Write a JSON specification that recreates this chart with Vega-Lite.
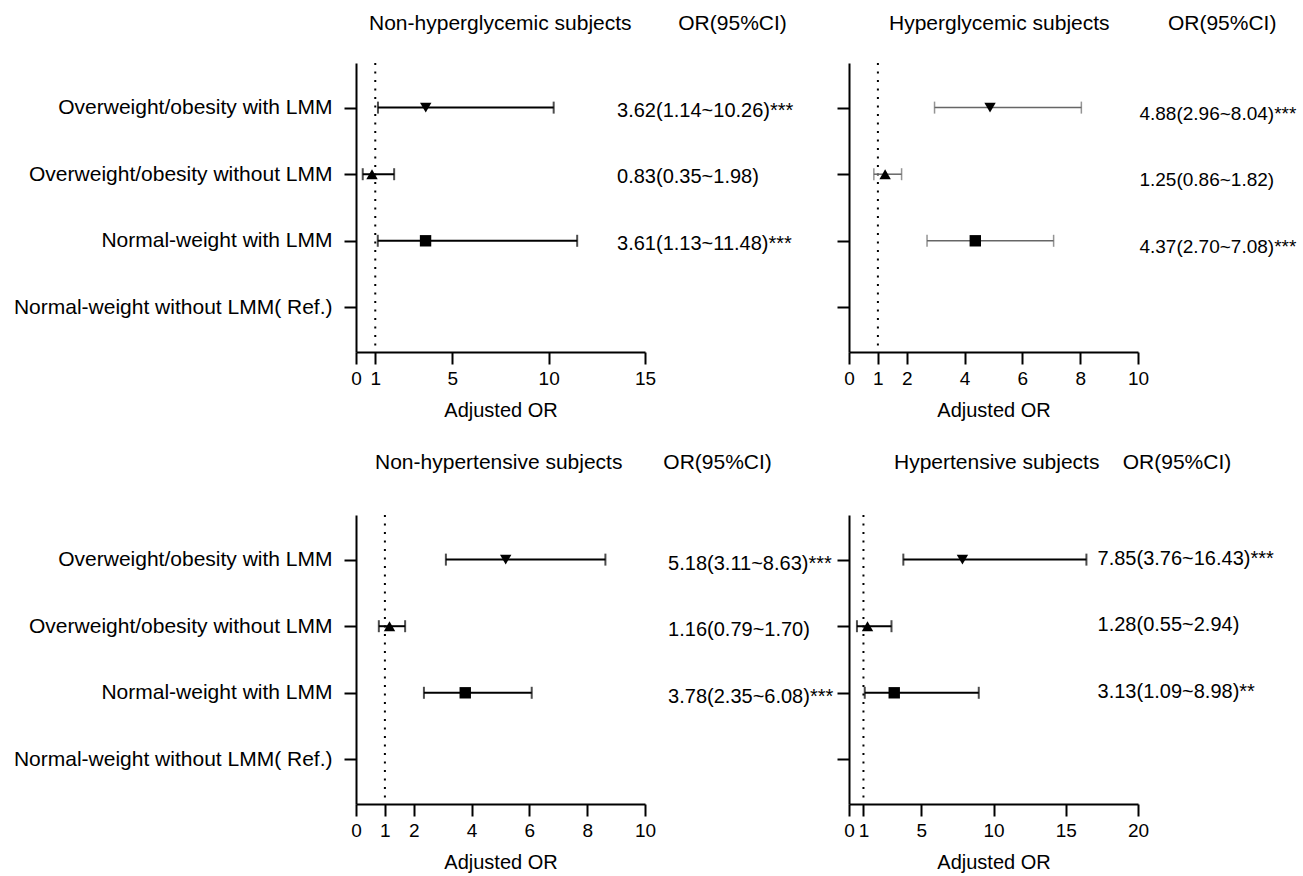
{
  "$schema": "https://vega.github.io/schema/vega-lite/v6.json",
  "padding": {"left": 13, "top": 13, "right": 5, "bottom": 5},
  "config": {
    "view": {"stroke": null},
    "font": "Liberation Sans",
    "axis": {"domainColor": "black", "domainWidth": 2, "tickColor": "black", "tickWidth": 2, "tickSize": 12, "labelColor": "black", "labelFont": "Liberation Sans", "titleFont": "Liberation Sans", "titleColor": "black", "grid": false, "titleFontWeight": "normal", "labelOverlap": false, "labelFlush": false, "labelLimit": 0},
    "axisX": {"labelFontSize": 19, "labelPadding": 5, "titleFontSize": 20, "titlePadding": 12},
    "axisY": {"labelFontSize": 21, "labelPadding": 12},
    "title": {"fontSize": 21, "fontWeight": "normal", "color": "black", "font": "Liberation Sans", "anchor": "start", "frame": "group"}
  },
  "data": {"values": [
    {"panel": "p1", "group": "Overweight/obesity with LMM", "or": 3.62, "low": 1.14, "high": 10.26, "label": "3.62(1.14~10.26)***"},
    {"panel": "p1", "group": "Overweight/obesity without LMM", "or": 0.83, "low": 0.35, "high": 1.98, "label": "0.83(0.35~1.98)"},
    {"panel": "p1", "group": "Normal-weight with LMM", "or": 3.61, "low": 1.13, "high": 11.48, "label": "3.61(1.13~11.48)***"},
    {"panel": "p2", "group": "Overweight/obesity with LMM", "or": 4.88, "low": 2.96, "high": 8.04, "label": "4.88(2.96~8.04)***"},
    {"panel": "p2", "group": "Overweight/obesity without LMM", "or": 1.25, "low": 0.86, "high": 1.82, "label": "1.25(0.86~1.82)"},
    {"panel": "p2", "group": "Normal-weight with LMM", "or": 4.37, "low": 2.70, "high": 7.08, "label": "4.37(2.70~7.08)***"},
    {"panel": "p3", "group": "Overweight/obesity with LMM", "or": 5.18, "low": 3.11, "high": 8.63, "label": "5.18(3.11~8.63)***"},
    {"panel": "p3", "group": "Overweight/obesity without LMM", "or": 1.16, "low": 0.79, "high": 1.70, "label": "1.16(0.79~1.70)"},
    {"panel": "p3", "group": "Normal-weight with LMM", "or": 3.78, "low": 2.35, "high": 6.08, "label": "3.78(2.35~6.08)***"},
    {"panel": "p4", "group": "Overweight/obesity with LMM", "or": 7.85, "low": 3.76, "high": 16.43, "label": "7.85(3.76~16.43)***"},
    {"panel": "p4", "group": "Overweight/obesity without LMM", "or": 1.28, "low": 0.55, "high": 2.94, "label": "1.28(0.55~2.94)"},
    {"panel": "p4", "group": "Normal-weight with LMM", "or": 3.13, "low": 1.09, "high": 8.98, "label": "3.13(1.09~8.98)**"}
  ]},
  "columns": 2,
  "spacing": {"row": 163, "column": 204},
  "bounds": "flush",
  "resolve": {"scale": {"x": "independent"}},
  "concat": [
    {
      "width": 289, "height": 289,
      "title": {"text": "Non-hyperglycemic subjects\u00a0\u00a0\u00a0\u00a0\u00a0\u00a0\u00a0\u00a0OR(95%CI)", "dx": 13, "offset": 28},
      "transform": [{"filter": "datum.panel === 'p1'"}],
      "layer": [
        {"data": {"values": [{}]}, "mark": {"type": "rule", "strokeDash": [2, 6.5], "strokeWidth": 2, "color": "black"}, "encoding": {"x": {"datum": 1, "scale": {"domain": [0, 15], "nice": false}}}},
        {"mark": {"type": "rule", "strokeWidth": 2, "color": "black"}, "encoding": {
          "x": {"field": "low", "type": "quantitative", "title": "Adjusted OR", "scale": {"domain": [0, 15], "nice": false}, "axis": {"values": [0, 1, 5, 10, 15]}},
          "x2": {"field": "high"},
          "y": {"field": "group", "type": "nominal", "title": null, "scale": {"type": "point", "domain": ["Overweight/obesity with LMM", "Overweight/obesity without LMM", "Normal-weight with LMM", "Normal-weight without LMM( Ref.)"], "padding": 0.67}}}},
        {"mark": {"type": "tick", "orient": "vertical", "size": 12, "thickness": 2, "color": "black"}, "encoding": {
          "x": {"field": "low", "type": "quantitative", "title": "Adjusted OR", "scale": {"domain": [0, 15], "nice": false}},
          "y": {"field": "group", "type": "nominal", "title": null}}},
        {"mark": {"type": "tick", "orient": "vertical", "size": 12, "thickness": 2, "color": "black"}, "encoding": {
          "x": {"field": "high", "type": "quantitative", "title": "Adjusted OR", "scale": {"domain": [0, 15], "nice": false}},
          "y": {"field": "group", "type": "nominal", "title": null}}},
        {"mark": {"type": "point", "filled": true, "color": "black", "opacity": 1}, "encoding": {
          "x": {"field": "or", "type": "quantitative", "title": "Adjusted OR", "scale": {"domain": [0, 15], "nice": false}},
          "y": {"field": "group", "type": "nominal", "title": null},
          "shape": {"field": "group", "type": "nominal", "scale": {"domain": ["Overweight/obesity with LMM", "Overweight/obesity without LMM", "Normal-weight with LMM"], "range": ["triangle-down", "triangle-up", "square"]}, "legend": null},
          "size": {"field": "group", "type": "ordinal", "scale": {"domain": ["Overweight/obesity with LMM", "Overweight/obesity without LMM", "Normal-weight with LMM"], "range": [130, 130, 180]}, "legend": null}}},
        {"mark": {"type": "text", "align": "left", "baseline": "middle", "fontSize": 20, "dy": 3, "color": "black"}, "encoding": {
          "x": {"datum": 13.55, "scale": {"domain": [0, 15], "nice": false}},
          "y": {"field": "group", "type": "nominal", "title": null},
          "text": {"field": "label"}}}
      ]
    },
    {
      "width": 289, "height": 289,
      "title": {"text": "Hyperglycemic subjects\u00a0\u00a0\u00a0\u00a0\u00a0\u00a0\u00a0\u00a0\u00a0\u00a0OR(95%CI)", "dx": 40, "offset": 28},
      "transform": [{"filter": "datum.panel === 'p2'"}],
      "layer": [
        {"data": {"values": [{}]}, "mark": {"type": "rule", "strokeDash": [2, 6.5], "strokeWidth": 2, "color": "black"}, "encoding": {"x": {"datum": 1, "scale": {"domain": [0, 10], "nice": false}}}},
        {"mark": {"type": "rule", "strokeWidth": 1.5, "color": "#666666"}, "encoding": {
          "x": {"field": "low", "type": "quantitative", "title": "Adjusted OR", "scale": {"domain": [0, 10], "nice": false}, "axis": {"values": [0, 1, 2, 4, 6, 8, 10]}},
          "x2": {"field": "high"},
          "y": {"field": "group", "type": "nominal", "title": null, "scale": {"type": "point", "domain": ["Overweight/obesity with LMM", "Overweight/obesity without LMM", "Normal-weight with LMM", "Normal-weight without LMM( Ref.)"], "padding": 0.67}, "axis": {"labels": false}}}},
        {"mark": {"type": "tick", "orient": "vertical", "size": 12, "thickness": 1.5, "color": "#666666"}, "encoding": {
          "x": {"field": "low", "type": "quantitative", "title": "Adjusted OR", "scale": {"domain": [0, 10], "nice": false}},
          "y": {"field": "group", "type": "nominal", "title": null}}},
        {"mark": {"type": "tick", "orient": "vertical", "size": 12, "thickness": 1.5, "color": "#666666"}, "encoding": {
          "x": {"field": "high", "type": "quantitative", "title": "Adjusted OR", "scale": {"domain": [0, 10], "nice": false}},
          "y": {"field": "group", "type": "nominal", "title": null}}},
        {"mark": {"type": "point", "filled": true, "color": "black", "opacity": 1}, "encoding": {
          "x": {"field": "or", "type": "quantitative", "title": "Adjusted OR", "scale": {"domain": [0, 10], "nice": false}},
          "y": {"field": "group", "type": "nominal", "title": null},
          "shape": {"field": "group", "type": "nominal", "scale": {"domain": ["Overweight/obesity with LMM", "Overweight/obesity without LMM", "Normal-weight with LMM"], "range": ["triangle-down", "triangle-up", "square"]}, "legend": null},
          "size": {"field": "group", "type": "ordinal", "scale": {"domain": ["Overweight/obesity with LMM", "Overweight/obesity without LMM", "Normal-weight with LMM"], "range": [130, 130, 180]}, "legend": null}}},
        {"mark": {"type": "text", "align": "left", "baseline": "middle", "fontSize": 19, "dy": 6, "color": "black"}, "encoding": {
          "x": {"datum": 10.05, "scale": {"domain": [0, 10], "nice": false}},
          "y": {"field": "group", "type": "nominal", "title": null},
          "text": {"field": "label"}}}
      ]
    },
    {
      "width": 289, "height": 289,
      "title": {"text": "Non-hypertensive subjects\u00a0\u00a0\u00a0\u00a0\u00a0\u00a0\u00a0OR(95%CI)", "dx": 19, "offset": 41},
      "transform": [{"filter": "datum.panel === 'p3'"}],
      "layer": [
        {"data": {"values": [{}]}, "mark": {"type": "rule", "strokeDash": [2, 6.5], "strokeWidth": 2, "color": "black"}, "encoding": {"x": {"datum": 1, "scale": {"domain": [0, 10], "nice": false}}}},
        {"mark": {"type": "rule", "strokeWidth": 2, "color": "black"}, "encoding": {
          "x": {"field": "low", "type": "quantitative", "title": "Adjusted OR", "scale": {"domain": [0, 10], "nice": false}, "axis": {"values": [0, 1, 2, 4, 6, 8, 10]}},
          "x2": {"field": "high"},
          "y": {"field": "group", "type": "nominal", "title": null, "scale": {"type": "point", "domain": ["Overweight/obesity with LMM", "Overweight/obesity without LMM", "Normal-weight with LMM", "Normal-weight without LMM( Ref.)"], "padding": 0.67}}}},
        {"mark": {"type": "tick", "orient": "vertical", "size": 12, "thickness": 2, "color": "black"}, "encoding": {
          "x": {"field": "low", "type": "quantitative", "title": "Adjusted OR", "scale": {"domain": [0, 10], "nice": false}},
          "y": {"field": "group", "type": "nominal", "title": null}}},
        {"mark": {"type": "tick", "orient": "vertical", "size": 12, "thickness": 2, "color": "black"}, "encoding": {
          "x": {"field": "high", "type": "quantitative", "title": "Adjusted OR", "scale": {"domain": [0, 10], "nice": false}},
          "y": {"field": "group", "type": "nominal", "title": null}}},
        {"mark": {"type": "point", "filled": true, "color": "black", "opacity": 1}, "encoding": {
          "x": {"field": "or", "type": "quantitative", "title": "Adjusted OR", "scale": {"domain": [0, 10], "nice": false}},
          "y": {"field": "group", "type": "nominal", "title": null},
          "shape": {"field": "group", "type": "nominal", "scale": {"domain": ["Overweight/obesity with LMM", "Overweight/obesity without LMM", "Normal-weight with LMM"], "range": ["triangle-down", "triangle-up", "square"]}, "legend": null},
          "size": {"field": "group", "type": "ordinal", "scale": {"domain": ["Overweight/obesity with LMM", "Overweight/obesity without LMM", "Normal-weight with LMM"], "range": [130, 130, 180]}, "legend": null}}},
        {"mark": {"type": "text", "align": "left", "baseline": "middle", "fontSize": 20, "dy": 4, "color": "black"}, "encoding": {
          "x": {"datum": 10.8, "scale": {"domain": [0, 10], "nice": false}},
          "y": {"field": "group", "type": "nominal", "title": null},
          "text": {"field": "label"}}}
      ]
    },
    {
      "width": 289, "height": 289,
      "title": {"text": "Hypertensive subjects\u00a0\u00a0\u00a0\u00a0OR(95%CI)", "dx": 45, "offset": 41},
      "transform": [{"filter": "datum.panel === 'p4'"}],
      "layer": [
        {"data": {"values": [{}]}, "mark": {"type": "rule", "strokeDash": [2, 6.5], "strokeWidth": 2, "color": "black"}, "encoding": {"x": {"datum": 1, "scale": {"domain": [0, 20], "nice": false}}}},
        {"mark": {"type": "rule", "strokeWidth": 2, "color": "black"}, "encoding": {
          "x": {"field": "low", "type": "quantitative", "title": "Adjusted OR", "scale": {"domain": [0, 20], "nice": false}, "axis": {"values": [0, 1, 5, 10, 15, 20]}},
          "x2": {"field": "high"},
          "y": {"field": "group", "type": "nominal", "title": null, "scale": {"type": "point", "domain": ["Overweight/obesity with LMM", "Overweight/obesity without LMM", "Normal-weight with LMM", "Normal-weight without LMM( Ref.)"], "padding": 0.67}, "axis": {"labels": false}}}},
        {"mark": {"type": "tick", "orient": "vertical", "size": 12, "thickness": 2, "color": "black"}, "encoding": {
          "x": {"field": "low", "type": "quantitative", "title": "Adjusted OR", "scale": {"domain": [0, 20], "nice": false}},
          "y": {"field": "group", "type": "nominal", "title": null}}},
        {"mark": {"type": "tick", "orient": "vertical", "size": 12, "thickness": 2, "color": "black"}, "encoding": {
          "x": {"field": "high", "type": "quantitative", "title": "Adjusted OR", "scale": {"domain": [0, 20], "nice": false}},
          "y": {"field": "group", "type": "nominal", "title": null}}},
        {"mark": {"type": "point", "filled": true, "color": "black", "opacity": 1}, "encoding": {
          "x": {"field": "or", "type": "quantitative", "title": "Adjusted OR", "scale": {"domain": [0, 20], "nice": false}},
          "y": {"field": "group", "type": "nominal", "title": null},
          "shape": {"field": "group", "type": "nominal", "scale": {"domain": ["Overweight/obesity with LMM", "Overweight/obesity without LMM", "Normal-weight with LMM"], "range": ["triangle-down", "triangle-up", "square"]}, "legend": null},
          "size": {"field": "group", "type": "ordinal", "scale": {"domain": ["Overweight/obesity with LMM", "Overweight/obesity without LMM", "Normal-weight with LMM"], "range": [130, 130, 180]}, "legend": null}}},
        {"mark": {"type": "text", "align": "left", "baseline": "middle", "fontSize": 20, "dy": -1, "color": "black"}, "encoding": {
          "x": {"datum": 17.2, "scale": {"domain": [0, 20], "nice": false}},
          "y": {"field": "group", "type": "nominal", "title": null},
          "text": {"field": "label"}}}
      ]
    }
  ]
}
